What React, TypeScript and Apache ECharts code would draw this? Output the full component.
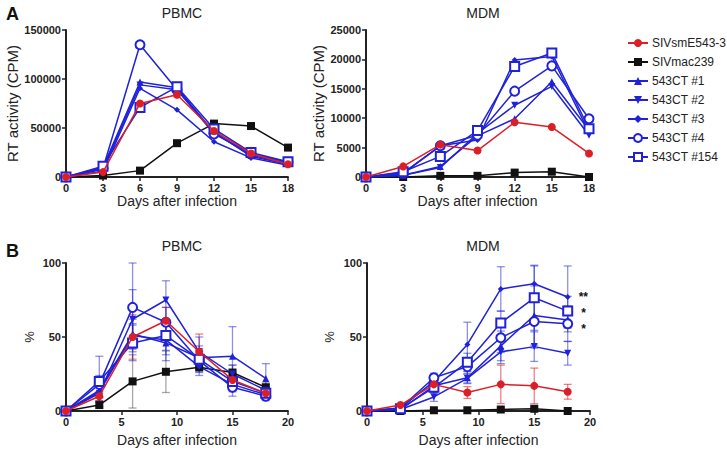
import React, { useEffect, useRef } from "react";
import * as echarts from "echarts";

const seriesNames = ["SIVsmE543-3", "SIVmac239", "543CT #1", "543CT #2", "543CT #3", "543CT #4", "543CT #154"];
const days = [0, 3, 6, 9, 12, 15, 18];

// Panel A: RT activity (CPM) in PBMC
const rtPbmcE543 = [0, 5000, 75000, 84000, 47000, 24000, 13000];
const rtPbmcMac239 = [0, 1500, 6500, 34500, 54500, 52000, 30000];
const rtPbmcCT1 = [0, 10000, 97000, 91000, 45000, 22000, 14000];
const rtPbmcCT2 = [0, 8000, 94000, 89000, 46000, 21000, 13000];
const rtPbmcCT3 = [0, 6000, 90500, 68500, 36000, 19500, 12000];
const rtPbmcCT4 = [0, 9000, 135000, 89000, 44000, 24000, 15000];
const rtPbmcCT154 = [0, 11000, 71000, 92000, 49000, 25000, 15500];

// Panel A: RT activity (CPM) in MDM
const rtMdmE543 = [0, 1800, 5500, 4500, 9300, 8500, 4000];
const rtMdmMac239 = [0, 0, 200, 200, 750, 900, 0];
const rtMdmCT1 = [0, 300, 1800, 7000, 9900, 16200, 8000];
const rtMdmCT2 = [0, 300, 1600, 7400, 12200, 15400, 7100];
const rtMdmCT3 = [0, 600, 5300, 6300, 19900, 20500, 7600];
const rtMdmCT4 = [0, 700, 5300, 7100, 14600, 18900, 9900];
const rtMdmCT154 = [0, 900, 3500, 7900, 18800, 21100, 8200];

// Panel B: % in PBMC (mean) and error
const pctPbmcE543 = [0, 10, 50, 61, 40, 21, 12];
const pctPbmcMac239 = [0, 4, 20, 26.5, 29.5, 26, 16];
const pctPbmcCT1 = [0, 14, 52, 46, 36, 37, 22];
const pctPbmcCT2 = [0, 12, 62, 75, 40, 25, 14];
const pctPbmcCT3 = [0, 13, 51, 48, 30, 18, 11];
const pctPbmcCT4 = [0, 18, 70, 60, 34, 16, 10];
const pctPbmcCT154 = [0, 20, 46, 51, 35, 20, 12];

const errPbmcE543 = [0, 3, 15, 9, 12, 6, 4];
const errPbmcMac239 = [0, 2, 18, 14, 3, 5, 3];
const errPbmcCT1 = [0, 5, 10, 12, 8, 20, 10];
const errPbmcCT2 = [0, 5, 20, 13, 10, 6, 4];
const errPbmcCT3 = [0, 4, 8, 10, 6, 5, 3];
const errPbmcCT4 = [0, 6, 30, 10, 8, 6, 3];
const errPbmcCT154 = [0, 17, 12, 10, 6, 6, 4];

// Panel B: % in MDM (mean) and error
const pctMdmE543 = [0, 4, 18, 12.5, 18, 17, 13];
const pctMdmMac239 = [0, 0, 0.5, 0.5, 1, 1.5, 0];
const pctMdmCT1 = [0, 1, 17, 22.5, 44, 64.5, 61.5];
const pctMdmCT2 = [0, 1, 9.5, 22, 40, 43.5, 39];
const pctMdmCT3 = [0, 2, 20, 45, 82.5, 86, 77];
const pctMdmCT4 = [0, 2, 22.5, 30, 49.5, 60.5, 59];
const pctMdmCT154 = [0, 1.5, 16, 33, 59.5, 76.5, 67.5];

const errMdmE543 = [0, 1, 5, 4, 13, 12, 5];
const errMdmMac239 = [0, 0, 0, 0, 1, 1, 0];
const errMdmCT1 = [0, 1, 3, 4, 10, 20, 8];
const errMdmCT2 = [0, 1, 3, 3, 8, 10, 8];
const errMdmCT3 = [0, 1, 4, 15, 15, 12, 21];
const errMdmCT4 = [0, 1, 3, 5, 10, 18, 12];
const errMdmCT154 = [0, 1, 4, 6, 8, 22, 10];

// Significance marks at day 18 (MDM, panel B)
const sigMarks: Record<string, string> = { "543CT #3": "**", "543CT #154": "*", "543CT #4": "*" };
const sigOffsetY: Record<string, number> = { "543CT #3": 0, "543CT #154": 2, "543CT #4": 5.5 };

const RED = "#dc1e26";
const BLACK = "#111111";
const BLUE = "#1f22d8";
const FONT = "'Liberation Sans', Arial, sans-serif";

const styles: Record<string, { color: string; symbol: string; size: number; rotate?: number; empty?: boolean; err: string }> = {
  "SIVsmE543-3": { color: RED, symbol: "circle", size: 8, err: "rgba(220,30,38,0.55)" },
  "SIVmac239": { color: BLACK, symbol: "rect", size: 8, err: "rgba(60,60,60,0.45)" },
  "543CT #1": { color: BLUE, symbol: "triangle", size: 7, err: "rgba(31,34,216,0.5)" },
  "543CT #2": { color: BLUE, symbol: "triangle", size: 7, rotate: 180, err: "rgba(31,34,216,0.5)" },
  "543CT #3": { color: BLUE, symbol: "diamond", size: 6, err: "rgba(31,34,216,0.5)" },
  "543CT #4": { color: BLUE, symbol: "circle", size: 9, empty: true, err: "rgba(31,34,216,0.5)" },
  "543CT #154": { color: BLUE, symbol: "rect", size: 9, empty: true, err: "rgba(31,34,216,0.5)" },
};

const panelAPbmc = [rtPbmcE543, rtPbmcMac239, rtPbmcCT1, rtPbmcCT2, rtPbmcCT3, rtPbmcCT4, rtPbmcCT154];
const panelAMdm = [rtMdmE543, rtMdmMac239, rtMdmCT1, rtMdmCT2, rtMdmCT3, rtMdmCT4, rtMdmCT154];
const panelBPbmc = [pctPbmcE543, pctPbmcMac239, pctPbmcCT1, pctPbmcCT2, pctPbmcCT3, pctPbmcCT4, pctPbmcCT154];
const panelBPbmcErr = [errPbmcE543, errPbmcMac239, errPbmcCT1, errPbmcCT2, errPbmcCT3, errPbmcCT4, errPbmcCT154];
const panelBMdm = [pctMdmE543, pctMdmMac239, pctMdmCT1, pctMdmCT2, pctMdmCT3, pctMdmCT4, pctMdmCT154];
const panelBMdmErr = [errMdmE543, errMdmMac239, errMdmCT1, errMdmCT2, errMdmCT3, errMdmCT4, errMdmCT154];

function lineSeries(name: string, values: number[], gi: number, withSig = false) {
  const s = styles[name];
  const data = values.map((v, i) => {
    const item: any = { value: [days[i], v] };
    if (withSig && i === values.length - 1 && sigMarks[name]) {
      item.label = {
        show: true,
        position: "right",
        distance: 8,
        offset: [0, sigOffsetY[name]],
        formatter: sigMarks[name],
        fontSize: 12,
        fontWeight: "bold",
        color: "#111",
        fontFamily: FONT,
      };
    }
    return item;
  });
  return {
    type: "line",
    name,
    xAxisIndex: gi,
    yAxisIndex: gi,
    data,
    symbol: s.symbol,
    symbolSize: s.size,
    symbolRotate: s.rotate || 0,
    showAllSymbol: true,
    clip: false,
    z: name === "SIVsmE543-3" ? 5 : 4,
    lineStyle: { color: s.color, width: 1.5 },
    itemStyle: s.empty
      ? { color: "#ffffff", borderColor: s.color, borderWidth: 2 }
      : { color: s.color, borderColor: s.color, borderWidth: 0 },
    emphasis: { disabled: true },
  };
}

function errorSeries(name: string, values: number[], errs: number[], gi: number) {
  const s = styles[name];
  const data = values.map((v, i) => [days[i], Math.max(0, v - errs[i]), v + errs[i]]);
  return {
    type: "custom",
    name: name + " err",
    xAxisIndex: gi,
    yAxisIndex: gi,
    data,
    z: 2,
    silent: true,
    clip: false,
    renderItem: (params: any, api: any) => {
      const x = api.value(0);
      const lo = api.value(1);
      const hi = api.value(2);
      if (hi - lo <= 0) return null;
      const p1 = api.coord([x, hi]);
      const p2 = api.coord([x, lo]);
      const cap = 4;
      const st = { stroke: s.err, lineWidth: 1.3 };
      return {
        type: "group",
        children: [
          { type: "line", shape: { x1: p1[0], y1: p1[1], x2: p2[0], y2: p2[1] }, style: st },
          { type: "line", shape: { x1: p1[0] - cap, y1: p1[1], x2: p1[0] + cap, y2: p1[1] }, style: st },
          { type: "line", shape: { x1: p2[0] - cap, y1: p2[1], x2: p2[0] + cap, y2: p2[1] }, style: st },
        ],
      };
    },
  };
}

function xAxisCfg(gi: number, max: number, interval: number, showName: boolean, nameGap: number) {
  return {
    type: "value",
    gridIndex: gi,
    min: 0,
    max,
    interval,
    name: showName ? "Days after infection" : "",
    nameLocation: "middle",
    nameGap,
    nameTextStyle: { fontSize: 14, color: "#222", fontFamily: FONT },
    axisLine: { lineStyle: { color: "#222", width: 1.8 } },
    axisTick: { show: true, length: 4, lineStyle: { color: "#222", width: 1.5 } },
    axisLabel: { fontSize: 11, fontWeight: "bold", color: "#222", fontFamily: FONT, margin: 5, formatter: (v: number) => String(v) },
    splitLine: { show: false },
  };
}

function yAxisCfg(gi: number, max: number, interval: number, name: string, nameGap: number, nameSize: number) {
  return {
    type: "value",
    gridIndex: gi,
    min: 0,
    max,
    interval,
    name,
    nameLocation: "middle",
    nameGap,
    nameTextStyle: { fontSize: nameSize, color: "#222", fontFamily: FONT },
    axisLine: { show: true, lineStyle: { color: "#222", width: 2 } },
    axisTick: { show: true, length: 4, lineStyle: { color: "#222", width: 1.5 } },
    axisLabel: { fontSize: 11, fontWeight: "bold", color: "#222", fontFamily: FONT, margin: 5, formatter: (v: number) => String(v) },
    splitLine: { show: false },
  };
}

export default function App() {
  const ref = useRef<HTMLDivElement>(null);
  useEffect(() => {
    document.body.style.margin = "0";
    if (!ref.current) return;
    const chart = echarts.init(ref.current, undefined, { renderer: "svg" });

    const series: any[] = [];
    seriesNames.forEach((n, i) => {
      series.push(lineSeries(n, panelAPbmc[i], 0));
      series.push(lineSeries(n, panelAMdm[i], 1));
      series.push(errorSeries(n, panelBPbmc[i], panelBPbmcErr[i], 2));
      series.push(lineSeries(n, panelBPbmc[i], 2));
      series.push(errorSeries(n, panelBMdm[i], panelBMdmErr[i], 3));
      series.push(lineSeries(n, panelBMdm[i], 3, true));
    });

    const titleStyle = { fontSize: 14, fontWeight: "normal", color: "#222", fontFamily: FONT };
    const letterStyle = { fontSize: 18, fontWeight: "bold", color: "#111", fontFamily: FONT };

    chart.setOption({
      animation: false,
      backgroundColor: "#ffffff",
      title: [
        { text: "PBMC", left: 177, top: 1, textAlign: "center", textStyle: titleStyle },
        { text: "MDM", left: 478, top: 1, textAlign: "center", textStyle: titleStyle },
        { text: "PBMC", left: 177, top: 234, textAlign: "center", textStyle: titleStyle },
        { text: "MDM", left: 478, top: 234, textAlign: "center", textStyle: titleStyle },
        { text: "A", left: 1, top: 0, textStyle: letterStyle },
        { text: "B", left: 1, top: 237, textStyle: letterStyle },
      ],
      legend: {
        data: seriesNames,
        orient: "vertical",
        left: 622,
        top: 32,
        itemWidth: 20,
        itemHeight: 10,
        itemGap: 7,
        textStyle: { fontSize: 12, color: "#222", fontFamily: FONT, padding: [0, 0, 0, -1] },
        selectedMode: false,
      },
      grid: [
        { left: 66, top: 30, width: 222, height: 147 },
        { left: 366, top: 30, width: 223, height: 147 },
        { left: 66, top: 263, width: 222, height: 148 },
        { left: 367, top: 263, width: 223, height: 148 },
      ],
      xAxis: [
        xAxisCfg(0, 18, 3, true, 16),
        xAxisCfg(1, 18, 3, true, 16),
        xAxisCfg(2, 20, 5, true, 22),
        xAxisCfg(3, 20, 5, true, 22),
      ],
      yAxis: [
        yAxisCfg(0, 150000, 50000, "RT activity (CPM)", 46, 15),
        yAxisCfg(1, 25000, 5000, "RT activity (CPM)", 40, 15),
        yAxisCfg(2, 100, 50, "%", 30, 13),
        yAxisCfg(3, 100, 50, "%", 31, 13),
      ],
      series,
    });
    return () => chart.dispose();
  }, []);
  return <div ref={ref} style={{ width: 727, height: 456 }} />;
}
